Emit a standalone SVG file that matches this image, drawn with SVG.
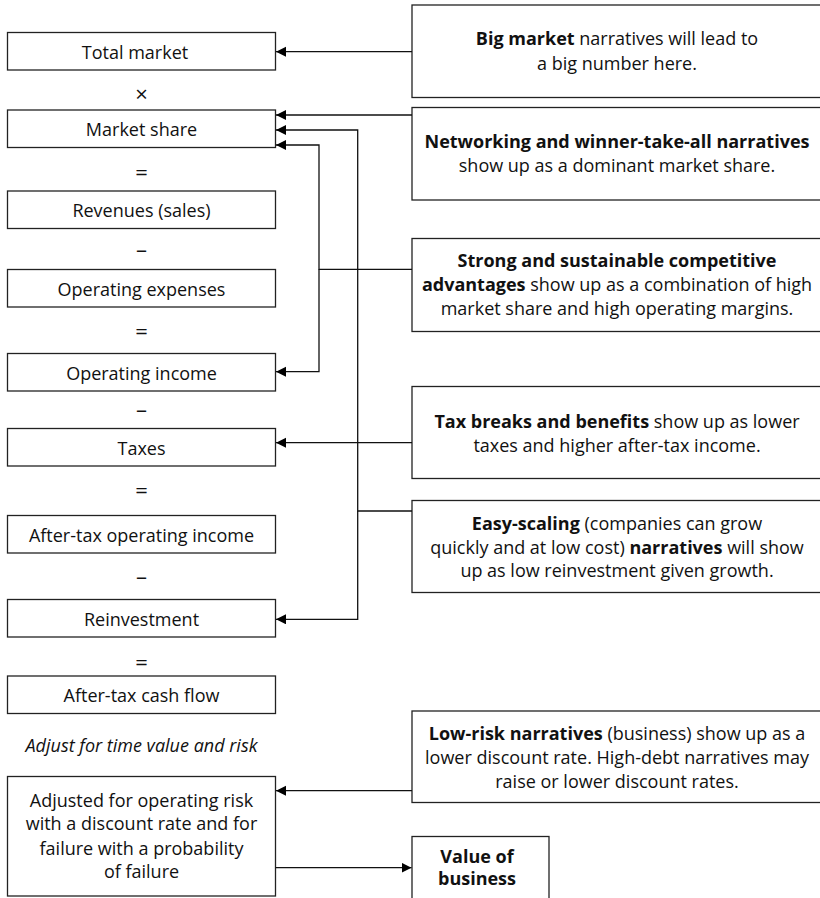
<svg xmlns="http://www.w3.org/2000/svg" width="820" height="898" viewBox="0 0 820 898">
  <style>
    .box { fill: #fff; stroke: #222; stroke-width: 1.3; }
    .lbl { font-family: "Open Sans", "Liberation Sans", sans-serif; font-size: 18px; fill: #111; text-anchor: middle; }
    .note { font-family: "Open Sans", "Liberation Sans", sans-serif; font-size: 18px; fill: #111; text-anchor: middle; }
    .b { font-weight: bold; }
    .op { font-family: "Open Sans", "Liberation Sans", sans-serif; font-size: 22px; fill: #111; text-anchor: middle; }
    .it { font-style: italic; }
    .wire { fill: none; stroke: #111; stroke-width: 1.3; }
  </style>
  <defs>
    <marker id="tip" markerUnits="userSpaceOnUse" markerWidth="11" markerHeight="11" refX="10" refY="5" orient="auto">
      <path d="M0,0 L10,5 L0,10 z" fill="#000"/>
    </marker>
  </defs>
  <rect width="820" height="898" fill="#fff"/>

  <!-- value chain, left column -->
  <g id="total-market"><rect class="box" x="7.5" y="32.5" width="268" height="37.5"/><text class="lbl" x="135" y="58.5">Total market</text></g>
  <text class="op" x="141.5" y="101.5">×</text>
  <g id="market-share"><rect class="box" x="7.5" y="110" width="268" height="37.5"/><text class="lbl" x="141.5" y="136">Market share</text></g>
  <text class="op" x="141.5" y="179.5">=</text>
  <g id="revenues"><rect class="box" x="7.5" y="191" width="268" height="37.5"/><text class="lbl" x="141.5" y="217">Revenues (sales)</text></g>
  <text class="op" x="141.5" y="257">–</text>
  <g id="operating-expenses"><rect class="box" x="7.5" y="269.5" width="268" height="37.5"/><text class="lbl" x="141.5" y="295.5">Operating expenses</text></g>
  <text class="op" x="141.5" y="338.5">=</text>
  <g id="operating-income"><rect class="box" x="7.5" y="353.5" width="268" height="37.5"/><text class="lbl" x="141.5" y="379.5">Operating income</text></g>
  <text class="op" x="141.5" y="417">–</text>
  <g id="taxes"><rect class="box" x="7.5" y="428.5" width="268" height="37.5"/><text class="lbl" x="141.5" y="454.5">Taxes</text></g>
  <text class="op" x="141.5" y="497.5">=</text>
  <g id="after-tax-operating-income"><rect class="box" x="7.5" y="515.5" width="268" height="37.5"/><text class="lbl" x="141.5" y="541.5">After-tax operating income</text></g>
  <text class="op" x="141.5" y="583.5">–</text>
  <g id="reinvestment"><rect class="box" x="7.5" y="599.5" width="268" height="37.5"/><text class="lbl" x="141.5" y="625.5">Reinvestment</text></g>
  <text class="op" x="141.5" y="669.5">=</text>
  <g id="after-tax-cash-flow"><rect class="box" x="7.5" y="676" width="268" height="37.5"/><text class="lbl" x="141.5" y="702">After-tax cash flow</text></g>
  <text class="lbl it" x="141.5" y="751.5">Adjust for time value and risk</text>
  <g id="adjusted">
    <rect class="box" x="7.5" y="776.5" width="268" height="119.5"/>
    <text class="lbl" x="141.5" y="806.5">Adjusted for operating risk</text>
    <text class="lbl" x="141.5" y="830">with a discount rate and for</text>
    <text class="lbl" x="141.5" y="854.5">failure with a probability</text>
    <text class="lbl" x="141.5" y="878">of failure</text>
  </g>

  <!-- narratives, right column -->
  <g id="big-market">
    <rect class="box" x="412" y="5" width="412" height="92.5"/>
    <text class="note" x="617" y="44.5"><tspan class="b">Big market</tspan> narratives will lead to</text>
    <text class="note" x="617" y="69.5">a big number here.</text>
  </g>
  <g id="networking">
    <rect class="box" x="412" y="107.5" width="412" height="92.5"/>
    <text class="note" x="617" y="148"><tspan class="b">Networking and winner-take-all narratives</tspan></text>
    <text class="note" x="617" y="172">show up as a dominant market share.</text>
  </g>
  <g id="competitive-advantages">
    <rect class="box" x="412" y="238.5" width="412" height="93"/>
    <text class="note" x="617" y="266.5"><tspan class="b">Strong and sustainable competitive</tspan></text>
    <text class="note" x="617" y="291"><tspan class="b">advantages</tspan> show up as a combination of high</text>
    <text class="note" x="617" y="315">market share and high operating margins.</text>
  </g>
  <g id="tax-breaks">
    <rect class="box" x="412" y="386.5" width="412" height="92"/>
    <text class="note" x="617" y="428"><tspan class="b">Tax breaks and benefits</tspan> show up as lower</text>
    <text class="note" x="617" y="451.5">taxes and higher after-tax income.</text>
  </g>
  <g id="easy-scaling">
    <rect class="box" x="412" y="500.5" width="412" height="92"/>
    <text class="note" x="617" y="530"><tspan class="b">Easy-scaling</tspan> (companies can grow</text>
    <text class="note" x="617" y="553.5">quickly and at low cost) <tspan class="b">narratives</tspan> will show</text>
    <text class="note" x="617" y="577">up as low reinvestment given growth.</text>
  </g>
  <g id="low-risk">
    <rect class="box" x="412" y="711" width="412" height="91.5"/>
    <text class="note" x="617" y="739.5"><tspan class="b">Low-risk narratives</tspan> (business) show up as a</text>
    <text class="note" x="617" y="763.5">lower discount rate. High-debt narratives may</text>
    <text class="note" x="617" y="788">raise or lower discount rates.</text>
  </g>
  <g id="value-of-business">
    <rect class="box" x="412" y="836.5" width="137" height="70"/>
    <text class="note b" x="477" y="862.5">Value of</text>
    <text class="note b" x="477" y="885">business</text>
  </g>

  <!-- connectors -->
  <g id="connectors">
    <path class="wire" d="M412,51.7 H276" marker-end="url(#tip)"/>
    <path class="wire" d="M412,115 H276" marker-end="url(#tip)"/>
    <path class="wire" d="M412,269.3 H319 V145 H276" marker-end="url(#tip)"/>
    <path class="wire" d="M319,269.3 V371.7 H276" marker-end="url(#tip)"/>
    <path class="wire" d="M412,511 H357.7 V130 H276" marker-end="url(#tip)"/>
    <path class="wire" d="M357.7,511 V619.3 H276" marker-end="url(#tip)"/>
    <path class="wire" d="M412,442.7 H276" marker-end="url(#tip)"/>
    <path class="wire" d="M412,790.7 H276" marker-end="url(#tip)"/>
    <path class="wire" d="M275.5,867.7 H411.5" marker-end="url(#tip)"/>
  </g>
</svg>
